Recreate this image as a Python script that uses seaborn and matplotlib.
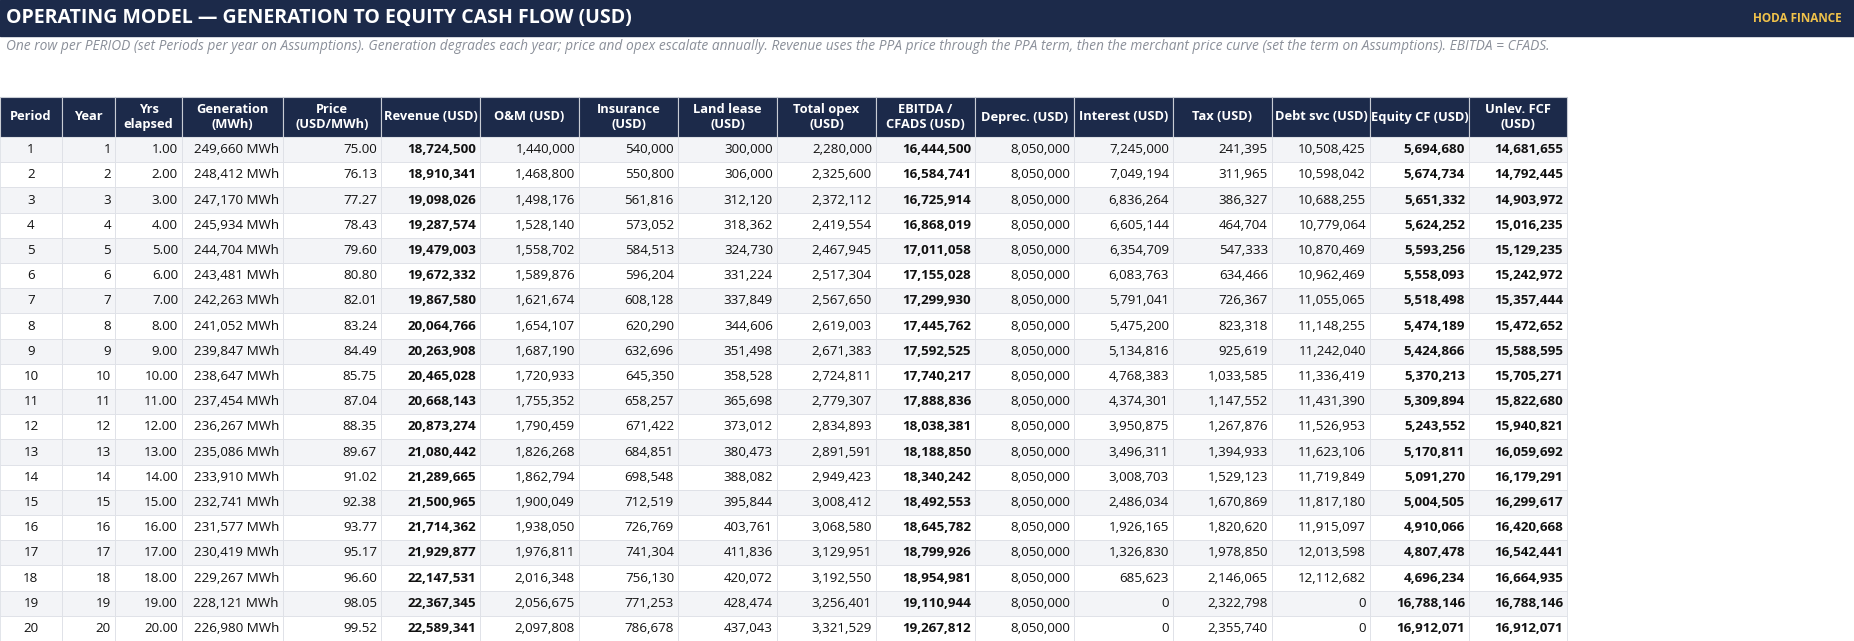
import matplotlib.pyplot as plt
import matplotlib.patches as mpatches
import numpy as np
import pandas as pd
import seaborn as sns

# Table content
period = list(range(1, 21))
year = list(range(1, 21))
yrs_elapsed = [float(i) for i in range(1, 21)]
generation = [249660, 248412, 247170, 245934, 244704, 243481, 242263, 241052, 239847, 238647,
              237454, 236267, 235086, 233910, 232741, 231577, 230419, 229267, 228121, 226980]
price = [75.00, 76.13, 77.27, 78.43, 79.60, 80.80, 82.01, 83.24, 84.49, 85.75,
         87.04, 88.35, 89.67, 91.02, 92.38, 93.77, 95.17, 96.60, 98.05, 99.52]
revenue = [18724500, 18910341, 19098026, 19287574, 19479003, 19672332, 19867580, 20064766, 20263908, 20465028,
           20668143, 20873274, 21080442, 21289665, 21500965, 21714362, 21929877, 22147531, 22367345, 22589341]
om = [1440000, 1468800, 1498176, 1528140, 1558702, 1589876, 1621674, 1654107, 1687190, 1720933,
      1755352, 1790459, 1826268, 1862794, 1900049, 1938050, 1976811, 2016348, 2056675, 2097808]
insurance = [540000, 550800, 561816, 573052, 584513, 596204, 608128, 620290, 632696, 645350,
             658257, 671422, 684851, 698548, 712519, 726769, 741304, 756130, 771253, 786678]
land_lease = [300000, 306000, 312120, 318362, 324730, 331224, 337849, 344606, 351498, 358528,
              365698, 373012, 380473, 388082, 395844, 403761, 411836, 420072, 428474, 437043]
total_opex = [2280000, 2325600, 2372112, 2419554, 2467945, 2517304, 2567650, 2619003, 2671383, 2724811,
              2779307, 2834893, 2891591, 2949423, 3008412, 3068580, 3129951, 3192550, 3256401, 3321529]
ebitda = [16444500, 16584741, 16725914, 16868019, 17011058, 17155028, 17299930, 17445762, 17592525, 17740217,
          17888836, 18038381, 18188850, 18340242, 18492553, 18645782, 18799926, 18954981, 19110944, 19267812]
deprec = [8050000] * 20
interest = [7245000, 7049194, 6836264, 6605144, 6354709, 6083763, 5791041, 5475200, 5134816, 4768383,
            4374301, 3950875, 3496311, 3008703, 2486034, 1926165, 1326830, 685623, 0, 0]
tax = [241395, 311965, 386327, 464704, 547333, 634466, 726367, 823318, 925619, 1033585,
       1147552, 1267876, 1394933, 1529123, 1670869, 1820620, 1978850, 2146065, 2322798, 2355740]
debt_svc = [10508425, 10598042, 10688255, 10779064, 10870469, 10962469, 11055065, 11148255, 11242040, 11336419,
            11431390, 11526953, 11623106, 11719849, 11817180, 11915097, 12013598, 12112682, 0, 0]
equity_cf = [5694680, 5674734, 5651332, 5624252, 5593256, 5558093, 5518498, 5474189, 5424866, 5370213,
             5309894, 5243552, 5170811, 5091270, 5004505, 4910066, 4807478, 4696234, 16788146, 16912071]
unlev_fcf = [14681655, 14792445, 14903972, 15016235, 15129235, 15242972, 15357444, 15472652, 15588595, 15705271,
             15822680, 15940821, 16059692, 16179291, 16299617, 16420668, 16542441, 16664935, 16788146, 16912071]

headers = ['Period', 'Year', 'Yrs\nelapsed', 'Generation\n(MWh)', 'Price\n(USD/MWh)', 'Revenue (USD)',
           'O&M (USD)', 'Insurance\n(USD)', 'Land lease\n(USD)', 'Total opex\n(USD)', 'EBITDA /\nCFADS (USD)',
           'Deprec. (USD)', 'Interest (USD)', 'Tax (USD)', 'Debt svc (USD)', 'Equity CF (USD)', 'Unlev. FCF\n(USD)']

df = pd.DataFrame({
    'period': [str(v) for v in period],
    'year': [str(v) for v in year],
    'yrs': [f'{v:.2f}' for v in yrs_elapsed],
    'gen': [f'{v:,} MWh' for v in generation],
    'price': [f'{v:.2f}' for v in price],
    'rev': [f'{v:,}' for v in revenue],
    'om': [f'{v:,}' for v in om],
    'ins': [f'{v:,}' for v in insurance],
    'land': [f'{v:,}' for v in land_lease],
    'opex': [f'{v:,}' for v in total_opex],
    'ebitda': [f'{v:,}' for v in ebitda],
    'dep': [f'{v:,}' for v in deprec],
    'int': [f'{v:,}' for v in interest],
    'tax': [f'{v:,}' for v in tax],
    'debt': [f'{v:,}' for v in debt_svc],
    'eq': [f'{v:,}' for v in equity_cf],
    'fcf': [f'{v:,}' for v in unlev_fcf],
})
bold_cols = {'rev', 'ebitda', 'eq', 'fcf'}

sns.set_style('white')
plt.rcParams['font.family'] = ['Open Sans', 'DejaVu Sans']

W, H = 1854, 641
navy = '#1c2a4a'
fig = plt.figure(figsize=(W / 100, H / 100), dpi=100)
ax = fig.add_axes([0, 0, 1, 1])
ax.set_xlim(0, W)
ax.set_ylim(H, 0)
ax.axis('off')

# title bar
ax.add_patch(mpatches.Rectangle((0, 0), W, 36, color=navy))
ax.text(6, 18, 'OPERATING MODEL — GENERATION TO EQUITY CASH FLOW (USD)', color='white',
        fontsize=14, fontweight='bold', va='center', ha='left')
ax.text(1842, 19, 'HODA FINANCE', color='#f0c24a', fontsize=8.5, fontweight='bold', va='center', ha='right')
ax.text(6, 47, 'One row per PERIOD (set Periods per year on Assumptions). Generation degrades each year; price and opex '
        'escalate annually. Revenue uses the PPA price through the PPA term, then the merchant price curve '
        '(set the term on Assumptions). EBITDA = CFADS.',
        color='#8a8f99', fontsize=9.9, style='italic', va='center', ha='left')

edges = [0, 62, 115, 182, 283, 381, 480, 579, 678, 777, 876, 975, 1074, 1173, 1272, 1370, 1469, 1567]
head_top, head_bot = 97, 137
row_h = (H - head_bot) / len(df)

for j, h in enumerate(headers):
    x0, x1 = edges[j], edges[j + 1]
    ax.add_patch(mpatches.Rectangle((x0, head_top), x1 - x0, head_bot - head_top,
                                    facecolor=navy, edgecolor='#c8ccd4', lw=0.8))
    ax.text((x0 + x1) / 2, (head_top + head_bot) / 2, h, color='white', fontsize=9.3,
            fontweight='bold', ha='center', va='center', linespacing=1.2)

for i, row in enumerate(df.itertuples(index=False)):
    y0 = head_bot + i * row_h
    fc = '#f3f4f7' if i % 2 == 0 else '#ffffff'
    for j, (col, val) in enumerate(zip(df.columns, row)):
        x0, x1 = edges[j], edges[j + 1]
        ax.add_patch(mpatches.Rectangle((x0, y0), x1 - x0, row_h, facecolor=fc,
                                        edgecolor='#dde0e6', lw=0.6))
        if j == 0:
            ax.text((x0 + x1) / 2, y0 + row_h / 2, val, fontsize=9.6, ha='center', va='center', color='#111111')
        else:
            ax.text(x1 - 4, y0 + row_h / 2, val, fontsize=9.6, ha='right', va='center', color='#111111',
                    fontweight='bold' if col in bold_cols else 'normal')

fig.savefig('out.png', dpi=100)
